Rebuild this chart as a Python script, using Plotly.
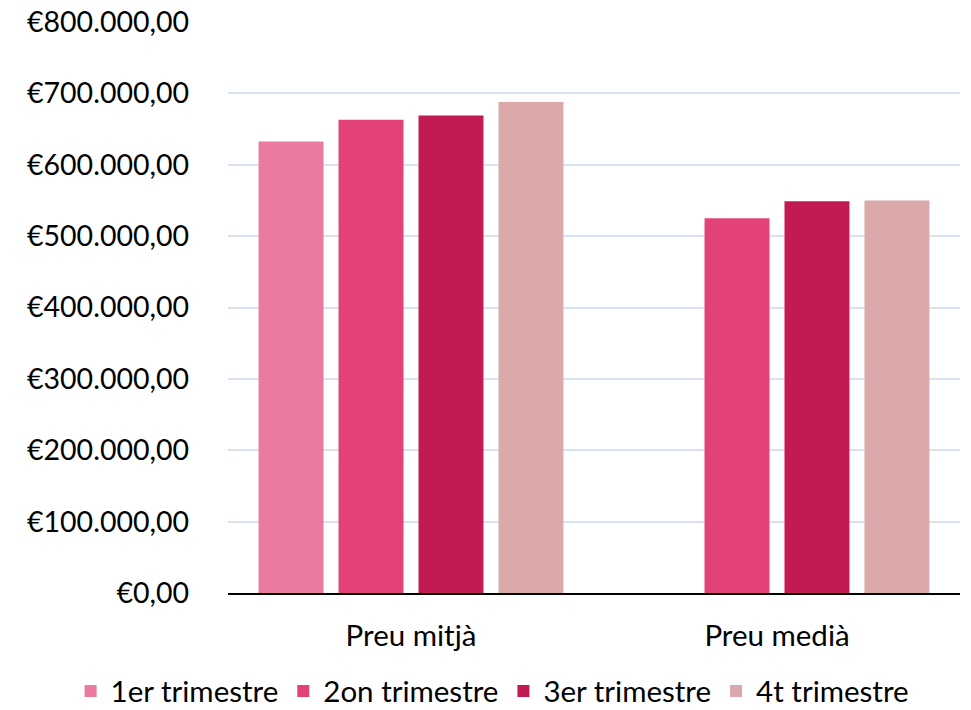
import plotly.graph_objects as go

categories = ["Preu mitjà", "Preu medià"]
series_names = ["1er trimestre", "2on trimestre", "3er trimestre", "4t trimestre"]
q1 = [632600, None]
q2 = [663000, 525000]
q3 = [669000, 549000]
q4 = [687800, 550000]
colors = ["#EA7A9E", "#E34276", "#C21B52", "#DBA9A9"]
tick_vals = [0, 100000, 200000, 300000, 400000, 500000, 600000, 700000, 800000]
tick_text = ["€0,00", "€100.000,00", "€200.000,00", "€300.000,00", "€400.000,00",
             "€500.000,00", "€600.000,00", "€700.000,00", "€800.000,00"]

fig = go.Figure()
for name, vals, c in zip(series_names, [q1, q2, q3, q4], colors):
    fig.add_trace(go.Bar(x=categories, y=vals, name=name, marker=dict(color=c, line=dict(width=0))))

font = "Lato, Carlito, 'Open Sans', sans-serif"
fig.update_layout(
    width=971, height=710,
    margin=dict(l=228, r=11, t=22, b=117, autoexpand=False),
    paper_bgcolor="white", plot_bgcolor="white",
    barmode="group", bargap=0.126, bargroupgap=0.1875,
    font=dict(family=font, size=28, color="#000000"),
    showlegend=True,
    legend=dict(orientation="h", x=-0.215, xanchor="left",
                y=-0.172, yanchor="middle",
                font=dict(size=29.5), itemwidth=30, traceorder="normal"),
    xaxis=dict(showline=True, linecolor="#000000", linewidth=2, ticks="", tickfont=dict(size=29.5),
               ticklabelstandoff=16, automargin=False),
    yaxis=dict(range=[0, 800000], tickvals=tick_vals, ticktext=tick_text, showgrid=True,
               gridcolor="#D9E2F3", gridwidth=2, zeroline=False, showline=False,
               tickfont=dict(size=28.5), ticklabelstandoff=38, automargin=False),
)
fig.write_html("out.html", config={"displayModeBar": False},
               post_script="document.body.style.margin='0';document.body.style.overflow='hidden';")
